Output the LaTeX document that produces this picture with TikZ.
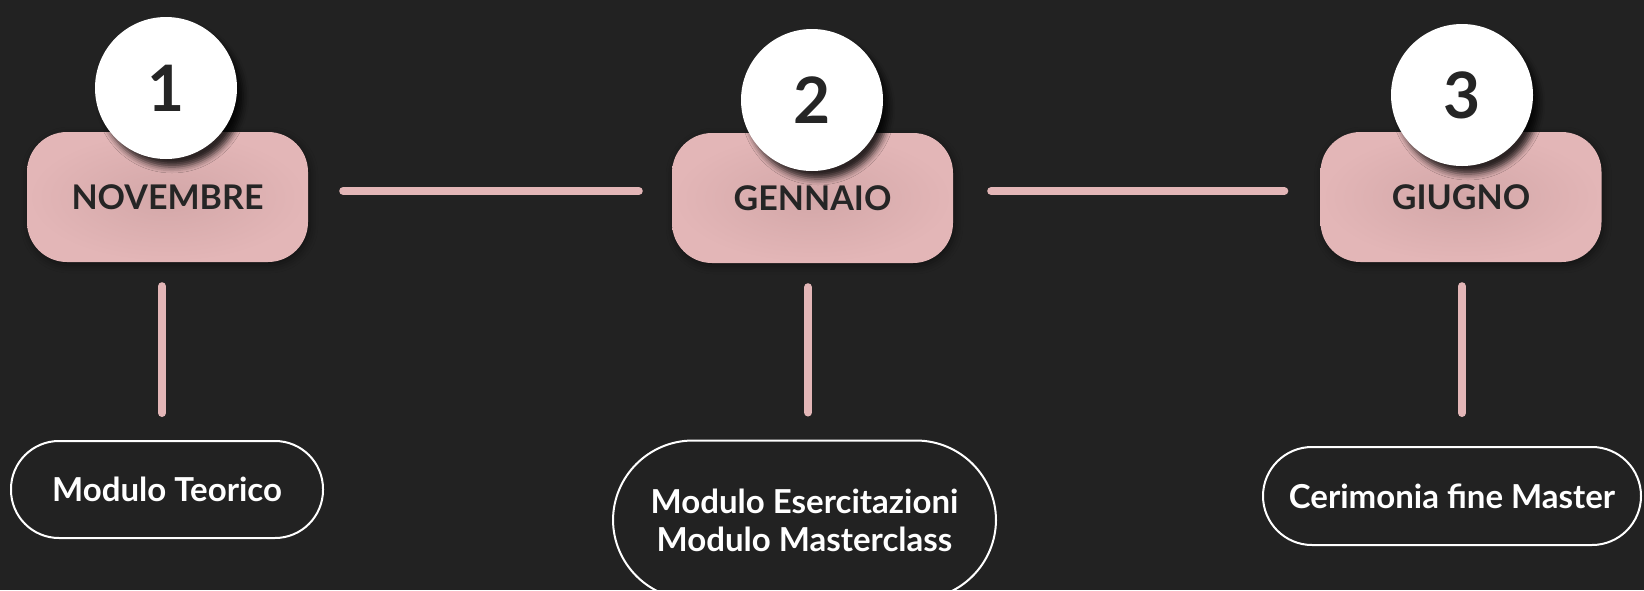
\documentclass[tikz,border=0pt]{standalone}
\usepackage{fontspec}
\setmainfont{Lato}
\usetikzlibrary{shadows.blur}
\definecolor{bg}{HTML}{222222}
\definecolor{pinkc}{HTML}{E3B6B7}
\definecolor{pinkd}{HTML}{D3A7A8}
\definecolor{txt}{HTML}{252525}
\begin{document}
\begin{tikzpicture}[x=1pt,y=-1pt,
  month/.style={draw=none, rounded corners=40pt, minimum width=281pt, minimum height=130pt,
    inner color=pinkd, outer color=pinkc, text=txt,
    font=\fontsize{34}{40}\selectfont\bfseries,
    blur shadow={shadow xshift=2pt, shadow yshift=-3pt, shadow blur radius=8pt, shadow opacity=45}},
  num/.style={circle, fill=white, minimum size=142pt, inner sep=0pt, text=txt,
    font=\fontsize{64}{72}\selectfont\bfseries,
    blur shadow={shadow xshift=6pt, shadow yshift=-8pt, shadow blur radius=6pt, shadow opacity=80}},
  conn/.style={draw=pinkc, line width=8pt, line cap=round},
  event/.style={draw=white, line width=2pt, text=white, align=center,
    font=\fontsize{33}{38}\selectfont\bfseries}]
\useasboundingbox (0,0) rectangle (1644,590);
\fill[bg] (0,0) rectangle (1644,590);
\clip (0,0) rectangle (1644,590);

% month boxes
\node[month] (m1) at (167.5,197) {NOVEMBRE};
\node[month] (m2) at (812.5,198) {GENNAIO};
\node[month] (m3) at (1461,197) {GIUGNO};

% event boxes
\node[event, minimum width=312pt, minimum height=97pt, rounded corners=48pt] (e1) at (167,489.5) {Modulo Teorico};
\node[event, minimum width=383pt, minimum height=159pt, rounded corners=80pt] (e2) at (804.5,520) {Modulo Esercitazioni\\Modulo Masterclass};
\node[event, minimum width=378pt, minimum height=98pt, rounded corners=49pt] (e3) at (1452,496) {Cerimonia fine Master};

% connectors
\draw[conn, shorten <=35pt, shorten >=33pt] ([yshift=6pt]m1.east) -- ([yshift=7pt]m2.west);
\draw[conn, shorten <=38pt, shorten >=36pt] ([yshift=7pt]m2.east) -- ([yshift=6pt]m3.west);
\draw[conn, shorten <=24pt, shorten >=27pt] ([xshift=-5.5pt]m1.south) -- ([xshift=-5.5pt]m1.south |- e1.north);
\draw[conn, shorten <=24pt, shorten >=27pt] ([xshift=-4.5pt]m2.south) -- ([xshift=-4.5pt]m2.south |- e2.north);
\draw[conn, shorten <=24pt, shorten >=33pt] ([xshift=1pt]m3.south) -- ([xshift=1pt]m3.south |- e3.north);

% number circles
\node[num] (c1) at (166,88) {1};
\node[num] (c2) at (812,100) {2};
\node[num] (c3) at (1462,95) {3};
\end{tikzpicture}
\end{document}
